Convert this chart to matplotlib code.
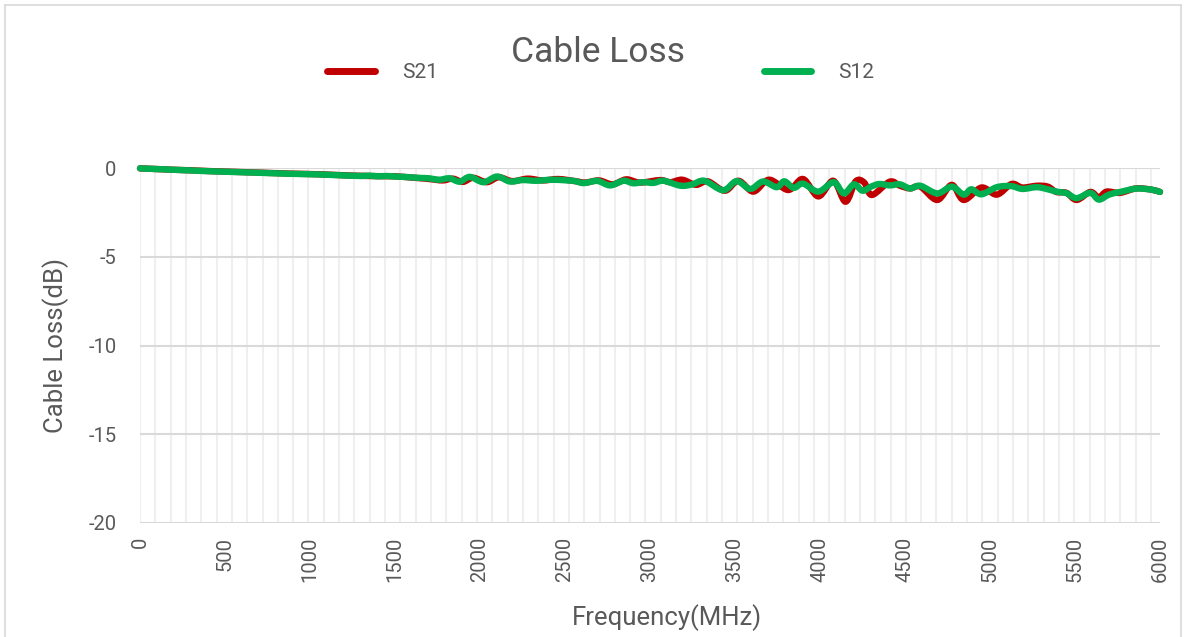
import matplotlib
matplotlib.use("Agg")
import matplotlib.pyplot as plt
from matplotlib.lines import Line2D
from matplotlib.path import Path
from matplotlib.patches import PathPatch
import numpy as np

# ---------------- data ----------------
title = "Cable Loss"
x_label = "Frequency(MHz)"
y_label = "Cable Loss(dB)"
x_ticks = [0, 500, 1000, 1500, 2000, 2500, 3000, 3500, 4000, 4500, 5000, 5500, 6000]
y_ticks = [0, -5, -10, -15, -20]

freq_s21 = [0, 100, 200, 300, 400, 500, 600, 700, 800, 900,
            1000, 1100, 1200, 1300, 1400, 1500, 1600, 1700, 1780, 1840,
            1900, 1960, 2040, 2110, 2190, 2280, 2370, 2460, 2560, 2620,
            2700, 2780, 2860, 2940, 3060, 3120, 3190, 3270, 3340, 3440,
            3520, 3608, 3700, 3814, 3900, 3990, 4078, 4150, 4210, 4260,
            4305, 4410, 4470, 4530, 4590, 4690, 4775, 4845, 4950, 5040,
            5127, 5190, 5275, 5340, 5390, 5450, 5510, 5590, 5640, 5686,
            5765, 5860, 5950, 6000]
loss_s21 = [-0.02, -0.06, -0.10, -0.13, -0.17, -0.20, -0.23, -0.26, -0.29, -0.32,
            -0.34, -0.37, -0.41, -0.44, -0.46, -0.47, -0.54, -0.62, -0.70, -0.60,
            -0.78, -0.55, -0.80, -0.52, -0.74, -0.60, -0.70, -0.62, -0.74, -0.82,
            -0.70, -0.92, -0.64, -0.82, -0.68, -0.80, -0.66, -0.95, -0.75, -1.28,
            -0.72, -1.33, -0.66, -1.24, -0.62, -1.60, -0.72, -1.90, -0.75, -0.82,
            -1.52, -0.77, -1.00, -1.15, -1.05, -1.80, -0.95, -1.80, -1.10, -1.50,
            -0.90, -1.10, -1.00, -1.05, -1.35, -1.40, -1.80, -1.35, -1.65, -1.33,
            -1.40, -1.15, -1.22, -1.35]

freq_s12 = [0, 100, 200, 300, 400, 500, 600, 700, 800, 900,
            1000, 1100, 1200, 1300, 1350, 1400, 1450, 1500, 1550, 1600,
            1650, 1700, 1760, 1820, 1880, 1940, 2020, 2100, 2175, 2250,
            2330, 2420, 2510, 2560, 2610, 2690, 2765, 2845, 2900, 2960,
            3020, 3080, 3180, 3250, 3320, 3430, 3510, 3590, 3665, 3745,
            3790, 3845, 3900, 3990, 4080, 4140, 4200, 4250, 4300, 4350,
            4410, 4470, 4530, 4590, 4690, 4775, 4845, 4890, 4950, 5040,
            5125, 5190, 5275, 5340, 5390, 5450, 5510, 5590, 5640, 5700,
            5765, 5860, 5950, 6000]
loss_s12 = [-0.02, -0.06, -0.10, -0.14, -0.18, -0.21, -0.24, -0.27, -0.30, -0.33,
            -0.35, -0.38, -0.42, -0.45, -0.43, -0.47, -0.45, -0.48, -0.50, -0.53,
            -0.56, -0.58, -0.66, -0.58, -0.77, -0.50, -0.80, -0.48, -0.76, -0.68,
            -0.72, -0.66, -0.70, -0.74, -0.85, -0.73, -0.98, -0.72, -0.86, -0.80,
            -0.84, -0.72, -1.00, -0.92, -0.72, -1.25, -0.74, -1.18, -0.76, -1.08,
            -0.75, -1.12, -0.88, -1.33, -0.80, -1.43, -0.92, -1.28, -1.05, -0.90,
            -0.98, -0.92, -1.15, -1.00, -1.43, -1.05, -1.50, -1.20, -1.48, -1.08,
            -1.02, -1.18, -1.08, -1.20, -1.33, -1.42, -1.70, -1.40, -1.78, -1.50,
            -1.35, -1.16, -1.22, -1.35]

series_names = ["S21", "S12"]

# ---------------- style ----------------
FONT = ["Roboto", "DejaVu Sans"]
TXT = "#595959"
RED = "#C00000"
GREEN = "#00B050"
GRID_H = "#D9D9D9"
GRID_V = "#EFEFEF"

plt.rcParams["font.family"] = FONT

W, H = 1186, 637
fig = plt.figure(figsize=(W / 100, H / 100), dpi=100)
ax = fig.add_axes([140 / W, 1 - 523 / H, 1020 / W, 355 / H])

ax.set_xlim(0, 6000)
ax.set_ylim(-20, 0)

# vertical light gridlines
vstep = 90.1
for xv in np.arange(0, 6000, vstep):
    ax.axvline(xv, color=GRID_V, lw=1.5, zorder=0)
# horizontal gridlines
for yv in y_ticks:
    ax.axhline(yv, color=GRID_H, lw=1.5, zorder=0.5)


def smoothed_line(ax, x, y, color, z):
    """Draw a smoothed (Excel-style) line through the given points using
    cubic Bezier segments (Catmull-Rom control points)."""
    p = np.column_stack([np.asarray(x, float), np.asarray(y, float)])
    n = len(p)
    verts = [p[0]]
    codes = [Path.MOVETO]
    for i in range(n - 1):
        p0 = p[i - 1] if i > 0 else p[i]
        p1 = p[i]
        p2 = p[i + 1]
        p3 = p[i + 2] if i + 2 < n else p[i + 1]
        c1 = p1 + (p2 - p0) / 6.0
        c2 = p2 - (p3 - p1) / 6.0
        verts += [c1, c2, p2]
        codes += [Path.CURVE4] * 3
    patch = PathPatch(Path(verts, codes), facecolor="none", edgecolor=color,
                      lw=4.6, capstyle="round", joinstyle="round",
                      transform=ax.transData, clip_on=False, zorder=z)
    ax.add_patch(patch)


smoothed_line(ax, freq_s21, loss_s21, RED, 3)
smoothed_line(ax, freq_s12, loss_s12, GREEN, 4)

for s in ax.spines.values():
    s.set_visible(False)

ax.set_xticks(x_ticks)
ax.set_xticklabels([str(v) for v in x_ticks], rotation=90, fontsize=14.5, color=TXT)
ax.set_yticks(y_ticks)
ax.set_yticklabels([str(v) for v in y_ticks], fontsize=14.5, color=TXT)
ax.tick_params(axis="both", length=0)
ax.tick_params(axis="x", pad=10)
ax.tick_params(axis="y", pad=17)

ax.set_xlabel(x_label, fontsize=18.5, color=TXT)
ax.xaxis.set_label_coords((667 - 140) / 1020, (523 - 604) / 355)
ax.set_ylabel(y_label, fontsize=18.5, color=TXT, labelpad=14)

fig.text(598 / W, 1 - 52 / H, title, fontsize=25.5, color=TXT, ha="center",
         va="center")

handles = [Line2D([], [], color=RED, lw=5, solid_capstyle="round"),
           Line2D([], [], color=GREEN, lw=5, solid_capstyle="round")]
fig.legend(handles, series_names, loc="center", bbox_to_anchor=(601 / W, 1 - 73 / H),
           ncol=2, frameon=False, fontsize=15, labelcolor=TXT,
           handlelength=2.3, handletextpad=1.3, columnspacing=15.6)

# chart border
for (x0, y0, x1, y1) in [(5, 5, 5, H), (5, 5, W - 5, 5), (W - 5, 5, W - 5, H)]:
    fig.add_artist(Line2D([x0 / W, x1 / W], [1 - y0 / H, 1 - y1 / H],
                          color="#D9D9D9", lw=1.2))

fig.savefig("out.png", dpi=100, facecolor="white")
